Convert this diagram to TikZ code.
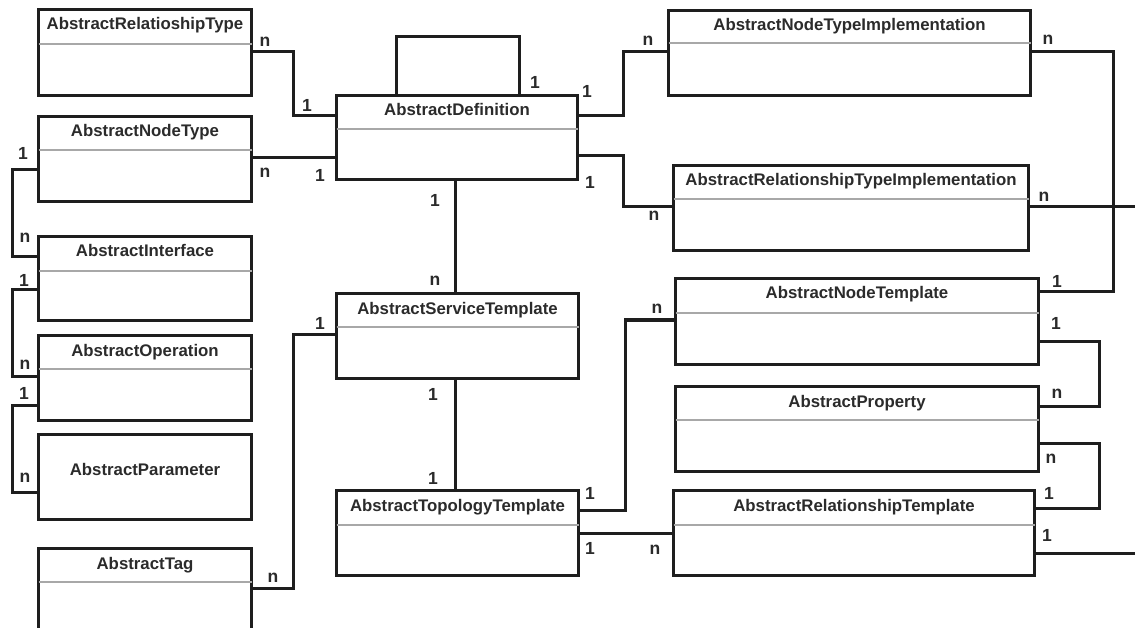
\documentclass[tikz,border=0pt]{standalone}
\usepackage{fontspec}
\setmainfont{Liberation Sans}
\usetikzlibrary{calc}

\definecolor{ink}{HTML}{1E1E1E}
\definecolor{txt}{HTML}{2B2B2B}
\definecolor{rule}{HTML}{A8A8A8}

\tikzset{
  cls/.style={draw=ink, line width=3pt, fill=white, inner sep=0pt, anchor=north west},
  ttl/.style={anchor=base, inner sep=0pt, text=txt, font=\bfseries\fontsize{16.8}{18}\selectfont},
  sepline/.style={draw=rule, line width=1.3pt},
  link/.style={draw=ink, line width=3pt},
  mult/.style={inner sep=0pt, text=txt, font=\bfseries\fontsize{17.5}{18}\selectfont},
}

% class box: name, x, y, width, height, title, separator offset (0 = none), title baseline offset
\newcommand\classbox[8]{%
  \node[cls, minimum width=#4pt, minimum height=#5pt] (#1) at (#2,#3) {};
  \node[ttl] (#1-title) at ($(#1.north)+(0,#8)$) {#6};
  \ifnum#7>0
    \draw[sepline] ($(#1.north west)+(1.5,#7)$) -- ($(#1.north east)+(-1.5,#7)$);
  \fi
}

\begin{document}
\begin{tikzpicture}[x=1pt, y=-1pt]
\useasboundingbox (0,0) rectangle (1135,628);
\fill[white] (0,0) rectangle (1135,628);

% left column
\classbox{rt}{37}{8}{213}{86}{AbstractRelatioshipType}{36}{22}
\classbox{nt}{37}{115}{213}{85}{AbstractNodeType}{35}{22}
\classbox{if}{37}{235}{213}{84}{AbstractInterface}{36}{22}
\classbox{op}{37}{334}{213}{85}{AbstractOperation}{35}{22}
\classbox{par}{37}{433}{213}{85}{AbstractParameter}{0}{42}
\classbox{tag}{37}{547}{213}{130}{AbstractTag}{35}{22}

% middle column
\classbox{def}{335}{94}{241}{84}{AbstractDefinition}{35}{22}
\classbox{st}{335}{292}{242}{85}{AbstractServiceTemplate}{35}{22}
\classbox{tt}{335}{489}{242}{85}{AbstractTopologyTemplate}{36}{22}

% right column
\classbox{nti}{667}{9}{362}{85}{AbstractNodeTypeImplementation}{34}{22}
\classbox{rti}{672}{164}{355}{85}{AbstractRelationshipTypeImplementation}{35}{22}
\classbox{ntp}{674}{277}{363}{86}{AbstractNodeTemplate}{36}{22}
\classbox{prop}{674}{385}{363}{85}{AbstractProperty}{35}{22}
\classbox{rtp}{672}{489}{361}{85}{AbstractRelationshipTemplate}{36}{22}

% loose ends leaving the drawing on the right
\coordinate (outA) at (1140,207);
\coordinate (outB) at (1140,553);

% associations
\draw[link] (rt.east |- 0,52) -| (293,116) -- (def.west |- 0,116);
\draw[link] (nt.east |- 0,158) -- (def.west |- 0,158);
\draw[link] (nt.west |- 0,170) -| (12,257) -- (if.west |- 0,257);
\draw[link] (if.west |- 0,290) -| (12,376) -- (op.west |- 0,376);
\draw[link] (op.west |- 0,405) -| (12,492) -- (par.west |- 0,492);
\draw[link] (tag.east |- 0,588) -| (293,334) -- (st.west |- 0,334);
\draw[link] (def.north -| 396,0) -- (396,37) -- (519,37) -- (def.north -| 519,0);
\draw[link] (def.east |- 0,116) -| (623,52) -- (nti.west |- 0,52);
\draw[link] (def.east |- 0,156) -| (623,207) -- (rti.west |- 0,207);
\draw[link] (def.south -| 455,0) -- (st.north -| 455,0);
\draw[link] (st.south -| 455,0) -- (tt.north -| 455,0);
\draw[link] (tt.east |- 0,510) -| (625,320) -- (ntp.west |- 0,320);
\draw[link] (tt.east |- 0,533) -- (rtp.west |- 0,533);
\draw[link] (nti.east |- 0,52) -| (1113,292) -- (ntp.east |- 0,292);
\draw[link] (rti.east |- 0,207) -- (outA);
\draw[link] (ntp.east |- 0,341) -| (1099,406) -- (prop.east |- 0,406);
\draw[link] (prop.east |- 0,443) -| (1099,508) -- (rtp.east |- 0,508);
\draw[link] (rtp.east |- 0,553) -- (outB);

% multiplicities
\node[mult] (m1) at (265,42) {n};
\node[mult] (m2) at (307,105) {1};
\node[mult] (m3) at (23,153) {1};
\node[mult] (m4) at (265,173) {n};
\node[mult] (m5) at (320,175) {1};
\node[mult] (m6) at (25,238) {n};
\node[mult] (m7) at (24,280) {1};
\node[mult] (m8) at (25,365) {n};
\node[mult] (m9) at (24,393) {1};
\node[mult] (m10) at (25,478) {n};
\node[mult] (m11) at (320,323) {1};
\node[mult] (m12) at (273,578) {n};
\node[mult] (m13) at (535,82) {1};
\node[mult] (m14) at (587,91) {1};
\node[mult] (m15) at (648,41) {n};
\node[mult] (m16) at (590,182) {1};
\node[mult] (m17) at (435,200) {1};
\node[mult] (m18) at (654,216) {n};
\node[mult] (m19) at (1048,40) {n};
\node[mult] (m20) at (1044,197) {n};
\node[mult] (m21) at (435,281) {n};
\node[mult] (m22) at (657,309) {n};
\node[mult] (m23) at (433,394) {1};
\node[mult] (m24) at (433,478) {1};
\node[mult] (m25) at (590,493) {1};
\node[mult] (m26) at (590,548) {1};
\node[mult] (m27) at (655,550) {n};
\node[mult] (m28) at (1057,281) {1};
\node[mult] (m29) at (1056,323) {1};
\node[mult] (m30) at (1057,394) {n};
\node[mult] (m31) at (1051,459) {n};
\node[mult] (m32) at (1049,493) {1};
\node[mult] (m33) at (1047,535) {1};
\end{tikzpicture}
\end{document}
